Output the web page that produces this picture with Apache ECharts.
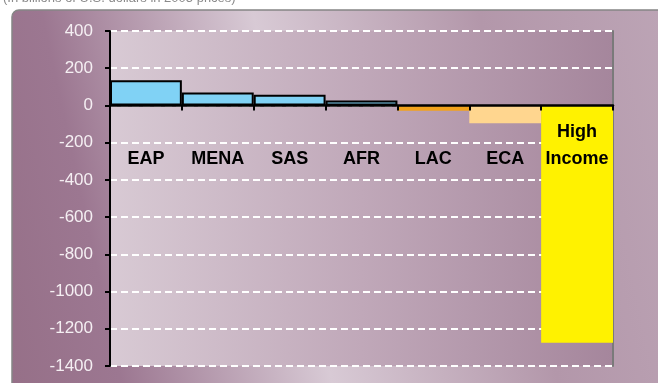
<!DOCTYPE html>
<html lang="en">
<head>
    <meta charset="UTF-8">
    <title>High Income</title>
    <script src="https://cdn.jsdelivr.net/npm/echarts@6.0.0/dist/echarts.min.js"></script>
    <style>
        html, body { margin: 0; padding: 0; background: #fff; }
    </style>
</head>

<body>
<div id="main" style="width: 658px;height:383px;"></div>
</body>

<script type="text/javascript">
    // data
    var regions = ['EAP', 'MENA', 'SAS', 'AFR', 'LAC', 'ECA', 'High\nIncome'];
    var flows = [135, 70, 57, 27, -28, -96, -1275];
    var yTicks = [-1400, -1200, -1000, -800, -600, -400, -200, 0, 200, 400];
    var subtitle = '(In billions of U.S. dollars in 2005 prices)';

    var barColors = ['#80d2f5', '#80d2f5', '#80d2f5', '#80d2f5', '#f2a21c', '#ffd68f', '#fff200'];
    var sans = "'Liberation Sans', Arial, sans-serif";

    var myChart = echarts.init(document.getElementById('main'));

    var barData = flows.map(function (v, i) {
        var blue = i < 4;
        return {
            value: v,
            itemStyle: {
                color: barColors[i],
                borderColor: blue ? '#000' : barColors[i],
                borderWidth: blue ? 2 : 0
            }
        };
    });

    option = {
        animation: false,
        backgroundColor: '#fff',
        graphic: [
            {
                type: 'rect',
                z: -10,
                shape: {x: 12, y: 10, width: 700, height: 420, r: [7, 0, 0, 0]},
                style: {
                    fill: new echarts.graphic.LinearGradient(-67, 14, 629, -135, [
                        {offset: 0, color: '#967088'},
                        {offset: 0.15, color: '#9c7791'},
                        {offset: 0.44, color: '#d8cad5'},
                        {offset: 0.75, color: '#b397aa'},
                        {offset: 1, color: '#bca4b5'}
                    ], true),
                    stroke: '#858585',
                    lineWidth: 1.5
                }
            },
            {
                type: 'text',
                left: 3,
                top: -8,
                style: {
                    text: subtitle,
                    fill: '#8a8a8a',
                    font: '13px ' + sans
                }
            }
        ],
        grid: {
            left: 110,
            right: 45,
            top: 31,
            bottom: 17,
            show: true,
            borderWidth: 0,
            outerBoundsMode: 'none',
            backgroundColor: new echarts.graphic.LinearGradient(0, 0, 1, 0, [
                {offset: 0, color: '#d8cad4'},
                {offset: 0.5, color: '#c0a8b9'},
                {offset: 1, color: '#a5869c'}
            ])
        },
        xAxis: {
            type: 'category',
            data: regions,
            z: 10,
            axisLine: {onZero: true, lineStyle: {color: '#000', width: 2.5}},
            axisTick: {show: true, length: 5, lineStyle: {color: '#000', width: 2}},
            axisLabel: {
                show: true,
                interval: 0,
                // labels are laid out from the grid bottom, pull them up under the zero line
                margin: -247,
                color: '#000',
                fontWeight: 'bold',
                fontSize: 18,
                lineHeight: 27,
                fontFamily: sans,
                // one-line names sit on the second line, like "Income"
                formatter: function (v) {
                    return v.indexOf('\n') < 0 ? '\n' + v : v;
                }
            }
        },
        yAxis: [
            {
                type: 'value',
                min: yTicks[0],
                max: yTicks[yTicks.length - 1],
                interval: 200,
                axisLine: {show: true, lineStyle: {color: '#000', width: 2}},
                axisTick: {show: true, length: 5, lineStyle: {color: '#000', width: 2}},
                axisLabel: {
                    margin: 17,
                    color: '#f5eff3',
                    fontSize: 17,
                    fontFamily: sans,
                    formatter: function (v) { return String(v); }
                },
                splitLine: {
                    show: true,
                    lineStyle: {color: '#ffffff', width: 2, type: [7, 4]}
                }
            },
            {
                type: 'value',
                position: 'right',
                min: yTicks[0],
                max: yTicks[yTicks.length - 1],
                interval: 200,
                axisLine: {show: true, lineStyle: {color: '#7a7a7a', width: 2}},
                axisTick: {show: false},
                axisLabel: {show: false},
                splitLine: {show: false}
            }
        ],
        series: [
            {
                name: 'flows',
                type: 'bar',
                barCategoryGap: '0%',
                data: barData
            }
        ]
    };

    myChart.setOption(option);
</script>
</html>
